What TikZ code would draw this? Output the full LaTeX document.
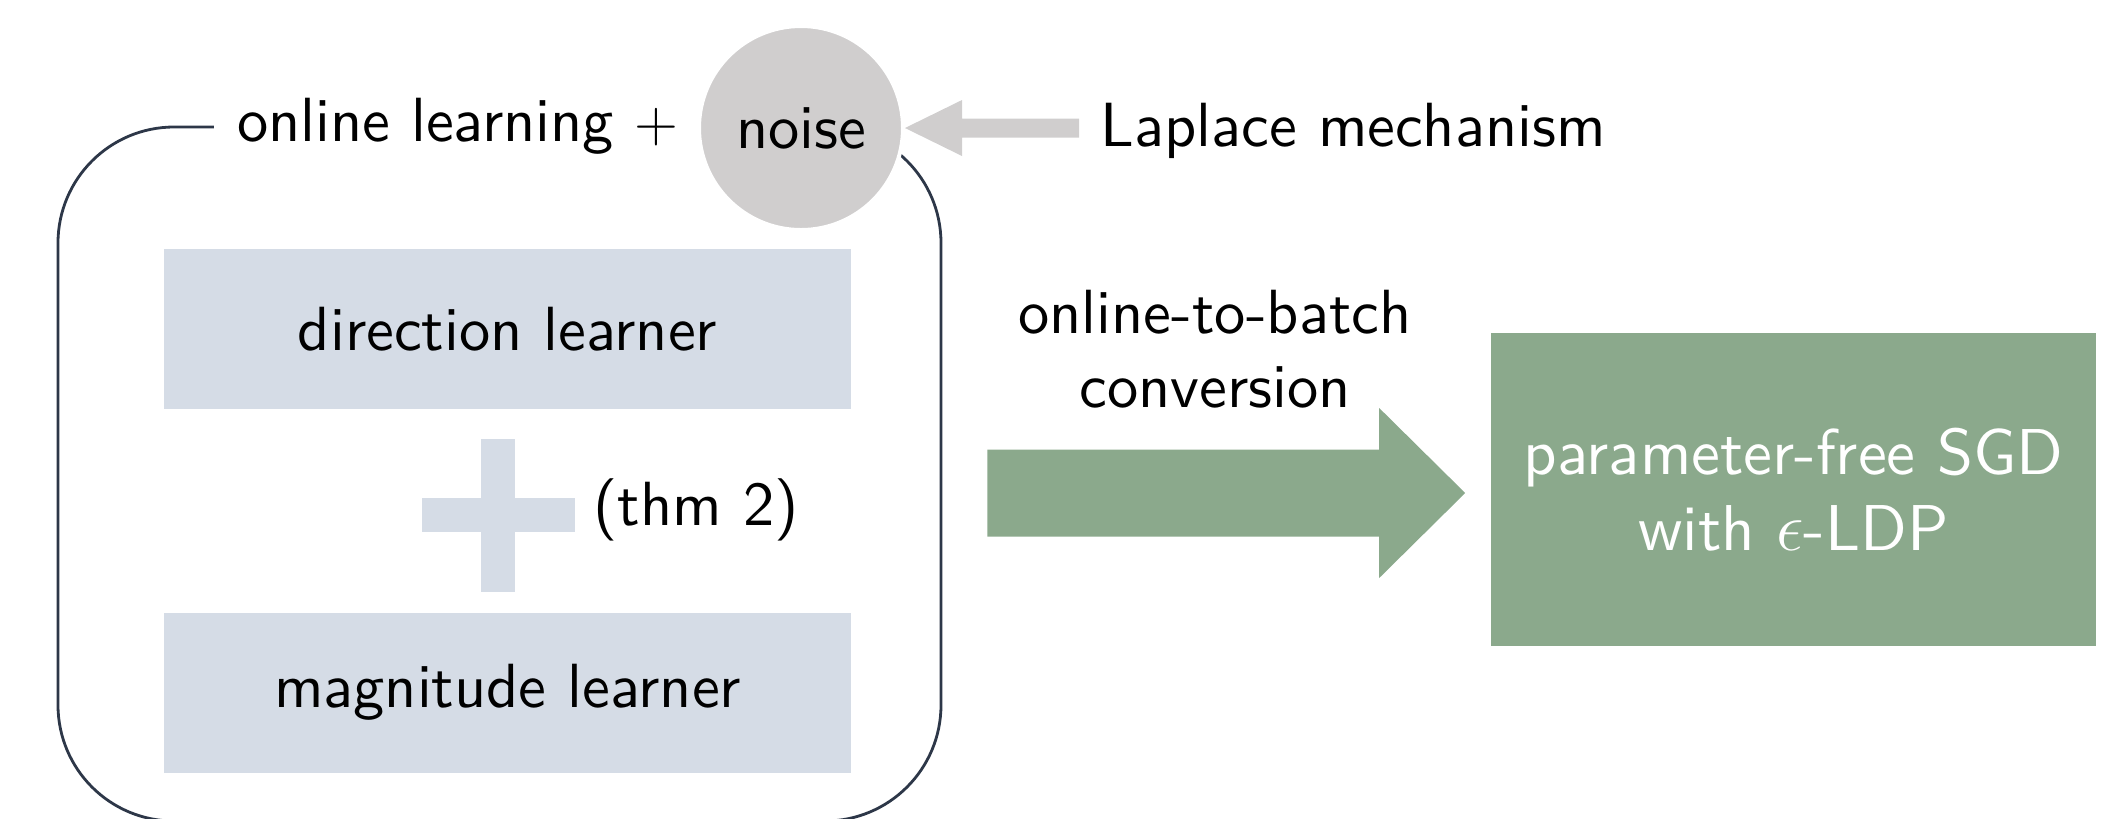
\documentclass[tikz,border=0pt]{standalone}
\usepackage{fontspec}
\usetikzlibrary{calc}

% upright sans at its 10pt design size, scaled up
\newfontfamily\lmsansten{lmsans10-regular.otf}

\definecolor{edgec}{RGB}{45,55,72}
\definecolor{boxc}{RGB}{213,220,230}
\definecolor{greenc}{RGB}{139,169,140}
\definecolor{grayc}{RGB}{208,206,206}

\tikzset{
  txt/.style={font=\lmsansten\fontsize{15.6pt}{18.5pt}\selectfont},
  container/.style={draw=edgec, line width=0.7pt, rounded corners=29pt,
    minimum width=220.75pt, minimum height=173.5pt, inner sep=0pt},
  learnbox/.style={txt, fill=boxc, minimum width=171.75pt, minimum height=40pt, inner sep=0pt},
  noisebubble/.style={txt, circle, fill=grayc, draw=white, line width=1pt,
    minimum size=51pt, inner sep=0pt},
  sgdbox/.style={font=\lmsansten\fontsize{16.2pt}{19pt}\selectfont,
    fill=greenc, text=white, align=center,
    minimum width=151.25pt, minimum height=78.25pt, inner sep=0pt},
}

\begin{document}
\begin{tikzpicture}[x=0.25pt, y=-0.25pt]
\useasboundingbox (0,0) rectangle (2122,818);
\clip (0,0) rectangle (2122,818);

% online learner frame
\node[container] (learner) at (499.5,474) {};
\node[txt, fill=white, inner xsep=5.75pt, inner ysep=2pt] (title) at (458,126) {online learning $+$};

% noise injection
\node[noisebubble] (noise) at (801,128) {noise};
\node[txt, anchor=base west, inner xsep=5.25pt] (laplace) at (1079,146) {Laplace mechanism};
\fill[grayc] (noise.east)
  -- ($(noise.east)+(57,-28)$) -- ($(noise.east)+(57,-9.5)$)
  -- ($(laplace.west |- noise)+(0,-9.5)$) -- ($(laplace.west |- noise)+(0,9.5)$)
  -- ($(noise.east)+(57,9.5)$) -- ($(noise.east)+(57,28)$) -- cycle;

% the two learners
\node[learnbox] (dir) at (507.5,329) {direction learner};
\node[learnbox] (mag) at (507.5,692.5) {magnitude learner};

% combination sign
\node[minimum size=38.25pt, inner sep=0pt, outer sep=0pt] (plus) at (498,515) {};
\fill[boxc] ($(plus.north)+(-17,0)$) rectangle ($(plus.south)+(17,0)$);
\fill[boxc] ($(plus.west)+(0,-17)$) rectangle ($(plus.east)+(0,17)$);
\node[txt, anchor=west, xshift=1.25pt, yshift=1.2pt] (thm) at (plus.east) {(thm 2)};

% conversion to SGD
\node[txt, align=center] (conv) at (1215,349.5) {online-to-batch\\conversion};
\node[sgdbox] (sgd) at (1793.5,489.5) {parameter-free SGD\\with $\epsilon$-LDP};
\coordinate (o2bstart) at ($(learner.east)+(45,19)$);
\coordinate (gtip) at ($(o2bstart -| sgd.west)+(-25,0)$);
\fill[greenc] ($(o2bstart)+(0,-43.5)$) -- ($(gtip)+(-86,-43.5)$)
  -- ($(gtip)+(-86,-85)$) -- (gtip) -- ($(gtip)+(-86,85)$)
  -- ($(gtip)+(-86,43.5)$) -- ($(o2bstart)+(0,43.5)$) -- cycle;
\end{tikzpicture}
\end{document}
